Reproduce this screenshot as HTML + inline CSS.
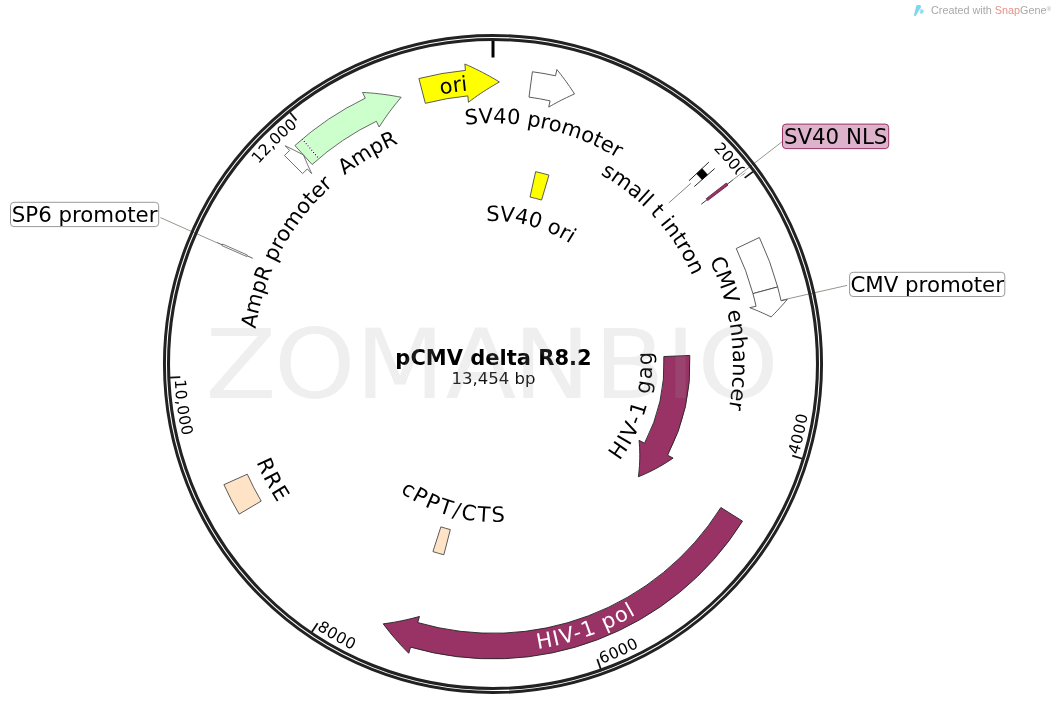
<!DOCTYPE html>
<html><head><meta charset="utf-8"><title>pCMV delta R8.2</title>
<style>
html,body{margin:0;padding:0;background:#fff;}
body{width:1058px;height:724px;overflow:hidden;}
svg{display:block;font-family:"DejaVu Sans","Liberation Sans",sans-serif;}
</style></head><body>
<svg width="1058" height="724" viewBox="0 0 1058 724">
<rect width="1058" height="724" fill="#fff"/>
<defs>
<path id="p1" d="M455.87,58.25 A308.00,308.00 0 0 1 739.23,178.97"/>
<path id="p2" d="M798.43,455.01 A318.70,318.70 0 0 0 724.53,144.99"/>
<path id="p3" d="M601.44,663.68 A318.70,318.70 0 0 0 806.75,419.93"/>
<path id="p4" d="M316.53,629.38 A318.70,318.70 0 0 0 634.59,649.52"/>
<path id="p5" d="M174.70,379.91 A318.70,318.70 0 0 0 347.62,647.61"/>
<path id="p6" d="M189.09,414.01 A308.00,308.00 0 0 1 297.73,125.81"/>
<path id="p7" d="M238.31,261.61 A274.50,274.50 0 0 1 709.01,194.62"/>
<path id="p8" d="M304.87,582.72 A288.50,288.50 0 0 0 776.48,417.56"/>
<path id="p9" d="M314.97,202.01 A240.70,240.70 0 0 1 722.31,290.82"/>
<path id="p10" d="M253.02,366.93 A240.00,240.00 0 0 1 610.45,154.70"/>
<path id="p11" d="M288.81,490.11 A240.00,240.00 0 0 1 485.88,124.11"/>
<path id="p12" d="M446.93,150.92 A218.00,218.00 0 0 1 700.56,430.64"/>
<path id="p13" d="M585.23,142.43 A240.00,240.00 0 0 1 638.77,554.66"/>
<path id="p14" d="M276.85,226.83 A256.00,256.00 0 0 0 482.28,619.78"/>
<path id="p15" d="M530.16,518.80 A159.20,159.20 0 0 0 608.48,254.41"/>
<path id="p16" d="M391.88,262.88 A143.00,143.00 0 0 1 631.13,326.99"/>
<path id="p17" d="M339.83,402.76 A158.00,158.00 0 0 0 603.15,477.27"/>
</defs>
<line x1="753.10" y1="171.65" x2="744.66" y2="177.89" stroke="#111" stroke-width="1.8"/>
<text font-size="15.6" fill="#000"><textPath href="#p1" startOffset="100%" text-anchor="end" textLength="39.9" lengthAdjust="spacing">2000</textPath></text>
<line x1="802.31" y1="458.75" x2="792.27" y2="455.68" stroke="#111" stroke-width="1.8"/>
<text font-size="15.6" fill="#000"><textPath href="#p2" startOffset="0%" text-anchor="start" textLength="41.3" lengthAdjust="spacing">4000</textPath></text>
<line x1="600.74" y1="669.03" x2="597.24" y2="659.13" stroke="#111" stroke-width="1.8"/>
<text font-size="15.6" fill="#000"><textPath href="#p3" startOffset="0%" text-anchor="start" textLength="41.3" lengthAdjust="spacing">6000</textPath></text>
<line x1="311.81" y1="632.00" x2="317.69" y2="623.30" stroke="#111" stroke-width="1.8"/>
<text font-size="15.6" fill="#000"><textPath href="#p4" startOffset="0%" text-anchor="start" textLength="41.3" lengthAdjust="spacing">8000</textPath></text>
<line x1="169.79" y1="377.67" x2="180.28" y2="377.22" stroke="#111" stroke-width="1.8"/>
<text font-size="15.6" fill="#000"><textPath href="#p5" startOffset="0%" text-anchor="start" textLength="56.8" lengthAdjust="spacing">10,000</textPath></text>
<line x1="289.83" y1="112.26" x2="296.42" y2="120.43" stroke="#111" stroke-width="1.8"/>
<text font-size="15.6" fill="#000"><textPath href="#p6" startOffset="100%" text-anchor="end" textLength="54.9" lengthAdjust="spacing">12,000</textPath></text>
<line x1="493.00" y1="40.50" x2="493.00" y2="57.50" stroke="#000" stroke-width="3"/>
<line x1="732.00" y1="180.50" x2="782.00" y2="141.80" stroke="#fff" stroke-width="4"/>
<line x1="732.00" y1="180.50" x2="782.00" y2="141.80" stroke="#8a8a80" stroke-width="0.9"/>
<line x1="781.70" y1="300.20" x2="847.00" y2="285.40" stroke="#fff" stroke-width="4"/>
<line x1="781.70" y1="300.20" x2="847.00" y2="285.40" stroke="#8a8a80" stroke-width="0.9"/>
<line x1="160.40" y1="217.60" x2="216.60" y2="242.60" stroke="#fff" stroke-width="4"/>
<line x1="160.40" y1="217.60" x2="216.60" y2="242.60" stroke="#8a8a80" stroke-width="0.9"/>
<circle cx="493.0" cy="364.0" r="328.55" fill="none" stroke="#222" stroke-width="2.95"/>
<circle cx="493.0" cy="364.0" r="324.5" fill="none" stroke="#222" stroke-width="3.05"/>
<path d="M425.35,103.34 L418.91,78.56 A294.90,294.90 0 0 1 465.44,70.39 L464.85,64.02 L468.49,65.62 L472.10,67.28 L475.66,68.97 L479.18,70.71 L482.66,72.48 L486.10,74.30 L489.49,76.16 L492.84,78.06 L496.14,80.00 L499.40,81.97 L496.10,83.84 L492.84,85.74 L489.63,87.68 L486.46,89.66 L483.34,91.67 L480.27,93.72 L477.24,95.80 L474.26,97.92 L471.32,100.07 L468.43,102.25 L467.84,95.88 A269.30,269.30 0 0 0 425.35,103.34 Z" fill="#ffff00" stroke="#4a4a4a" stroke-width="0.9" stroke-linejoin="miter" />
<path d="M528.99,97.12 L532.41,71.75 A294.90,294.90 0 0 1 555.52,75.80 L556.88,69.55 L558.80,71.94 L560.68,74.34 L562.53,76.76 L564.35,79.18 L566.13,81.62 L567.88,84.06 L569.60,86.52 L571.28,88.98 L572.92,91.46 L574.54,93.94 L571.84,95.14 L569.18,96.37 L566.53,97.62 L563.91,98.90 L561.32,100.20 L558.75,101.53 L556.21,102.88 L553.69,104.26 L551.20,105.65 L548.74,107.08 L550.09,100.82 A269.30,269.30 0 0 0 528.99,97.12 Z" fill="#ffffff" stroke="#4a4a4a" stroke-width="0.9" stroke-linejoin="miter" />
<path d="M312.11,164.50 L294.91,145.54 A294.90,294.90 0 0 1 365.29,98.19 L362.52,92.42 L366.50,92.66 L370.45,92.96 L374.38,93.31 L378.29,93.72 L382.17,94.18 L386.02,94.69 L389.85,95.26 L393.65,95.88 L397.42,96.55 L401.16,97.27 L398.71,100.16 L396.31,103.08 L393.98,106.01 L391.69,108.97 L389.46,111.94 L387.29,114.92 L385.17,117.93 L383.11,120.95 L381.10,123.98 L379.15,127.03 L376.38,121.26 A269.30,269.30 0 0 0 312.11,164.50 Z" fill="#ccffcc" stroke="#5a5a5a" stroke-width="0.9" stroke-linejoin="miter" />
<path d="M736.27,248.49 L759.39,237.51 A294.90,294.90 0 0 1 777.65,286.93 L752.94,293.62 A269.30,269.30 0 0 0 736.27,248.49 Z" fill="#ffffff" stroke="#4a4a4a" stroke-width="0.9"/>
<path d="M752.94,293.62 L777.65,286.93 A294.90,294.90 0 0 1 781.05,300.80 L787.30,299.43 L785.73,301.26 L784.15,303.07 L782.56,304.86 L780.96,306.64 L779.35,308.40 L777.73,310.15 L776.10,311.88 L774.46,313.59 L772.81,315.28 L771.15,316.95 L769.03,315.94 L766.90,314.94 L764.77,313.96 L762.64,313.00 L760.50,312.06 L758.37,311.14 L756.23,310.24 L754.08,309.36 L751.94,308.50 L749.79,307.66 L756.04,306.29 A269.30,269.30 0 0 0 752.94,293.62 Z" fill="#ffffff" stroke="#4a4a4a" stroke-width="0.9" stroke-linejoin="miter" />
<path d="M663.84,356.54 L689.81,355.41 A197.00,197.00 0 0 1 667.60,455.23 L673.10,458.10 L669.71,460.38 L666.29,462.56 L662.86,464.65 L659.40,466.66 L655.93,468.57 L652.44,470.39 L648.94,472.12 L645.43,473.76 L641.91,475.31 L638.39,476.77 L638.84,473.02 L639.20,469.28 L639.48,465.56 L639.67,461.87 L639.77,458.20 L639.79,454.56 L639.73,450.95 L639.59,447.37 L639.37,443.83 L639.06,440.32 L644.56,443.19 A171.00,171.00 0 0 0 663.84,356.54 Z" fill="#993366" stroke="#222" stroke-width="0.9" stroke-linejoin="miter" />
<path d="M720.88,507.50 L742.54,521.15 A294.90,294.90 0 0 1 410.54,647.14 L408.75,653.28 L405.95,650.44 L403.20,647.58 L400.51,644.70 L397.88,641.78 L395.30,638.85 L392.77,635.89 L390.30,632.92 L387.89,629.92 L385.53,626.90 L383.23,623.87 L386.98,623.35 L390.71,622.78 L394.41,622.16 L398.08,621.48 L401.73,620.76 L405.34,619.99 L408.92,619.17 L412.48,618.30 L416.00,617.38 L419.49,616.41 L417.70,622.56 A269.30,269.30 0 0 0 720.88,507.50 Z" fill="#993366" stroke="#222" stroke-width="0.9" stroke-linejoin="miter" />
<path d="M261.20,501.08 L239.17,514.12 A294.90,294.90 0 0 1 223.91,484.65 L247.27,474.18 A269.30,269.30 0 0 0 261.20,501.08 Z" fill="#ffe3c6" stroke="#4a4a4a" stroke-width="0.9"/>
<path d="M450.33,529.59 L443.84,554.77 A197.00,197.00 0 0 1 432.94,551.62 L440.87,526.86 A171.00,171.00 0 0 0 450.33,529.59 Z" fill="#ffe3c6" stroke="#4a4a4a" stroke-width="0.9"/>
<path d="M530.01,197.05 L535.64,171.67 A197.00,197.00 0 0 1 548.95,175.11 L541.57,200.04 A171.00,171.00 0 0 0 530.01,197.05 Z" fill="#ffff00" stroke="#4a4a4a" stroke-width="0.9"/>
<path d="M302.58,173.58 L284.47,155.47 A294.90,294.90 0 0 1 289.63,150.44 L285.22,145.81 L287.07,146.69 L288.92,147.59 L290.76,148.49 L292.60,149.40 L294.43,150.32 L296.26,151.24 L298.08,152.18 L299.90,153.12 L301.70,154.06 L303.51,155.02 L304.29,156.90 L305.08,158.78 L305.88,160.65 L306.69,162.52 L307.50,164.38 L308.33,166.24 L309.16,168.09 L310.00,169.94 L310.84,171.78 L311.70,173.62 L307.29,168.98 A269.30,269.30 0 0 0 302.58,173.58 Z" fill="#ffffff" stroke="#4a4a4a" stroke-width="0.8" stroke-linejoin="miter" />
<line x1="318.37" y1="158.08" x2="302.20" y2="139.01" stroke="#fff" stroke-width="1.5"/>
<line x1="318.37" y1="158.08" x2="302.20" y2="139.01" stroke="#000" stroke-width="1.1" stroke-dasharray="1,1.9" stroke-dashoffset="-1"/>
<line x1="252.73" y1="258.28" x2="216.58" y2="242.37" stroke="#333" stroke-width="0.8"/>
<path d="M246.64,256.47 L221.90,245.67 A295.80,295.80 0 0 1 222.61,244.06 L247.29,255.01 A268.80,268.80 0 0 0 246.64,256.47 Z" fill="#ffffff" stroke="#444" stroke-width="0.7"/>
<line x1="701.26" y1="204.20" x2="732.59" y2="180.15" stroke="#222" stroke-width="0.9"/>
<path d="M706.18,198.64 L726.33,183.01 A295.30,295.30 0 0 1 727.97,185.13 L707.68,200.58 A269.80,269.80 0 0 0 706.18,198.64 Z" fill="#993366" stroke="#5a1f3c" stroke-width="0.8"/>
<line x1="688.97" y1="180.75" x2="708.83" y2="162.17" stroke="#111" stroke-width="0.9"/>
<line x1="694.25" y1="186.57" x2="714.66" y2="168.58" stroke="#111" stroke-width="0.9"/>
<path d="M696.49,173.71 L702.11,168.45 A286.30,286.30 0 0 1 707.76,174.67 L701.98,179.76 A278.60,278.60 0 0 0 696.49,173.71 Z" fill="#000" stroke="#000" stroke-width="0.3"/>
<line x1="668.84" y1="202.87" x2="690.91" y2="183.29" stroke="#777" stroke-width="0.9"/>
<text font-size="21.0" fill="#000" ><textPath href="#p7" startOffset="50%" text-anchor="middle">ori</textPath></text>
<text font-size="21.0" fill="#fff" ><textPath href="#p8" startOffset="50%" text-anchor="middle" textLength="104.6" lengthAdjust="spacing">HIV-1 pol</textPath></text>
<text font-size="21.0" fill="#000" ><textPath href="#p9" startOffset="50%" text-anchor="middle">SV40 promoter</textPath></text>
<text font-size="21.0" fill="#000" ><textPath href="#p10" startOffset="50%" text-anchor="middle">AmpR</textPath></text>
<text font-size="21.0" fill="#000" ><textPath href="#p11" startOffset="50%" text-anchor="middle">AmpR promoter</textPath></text>
<text font-size="21.0" fill="#000" ><textPath href="#p12" startOffset="50%" text-anchor="middle">small t intron</textPath></text>
<text font-size="21.0" fill="#000" ><textPath href="#p13" startOffset="50%" text-anchor="middle">CMV enhancer</textPath></text>
<text font-size="21.0" fill="#000" ><textPath href="#p14" startOffset="50%" text-anchor="middle" textLength="45.9" lengthAdjust="spacing">RRE</textPath></text>
<text font-size="21.0" fill="#000" ><textPath href="#p15" startOffset="50%" text-anchor="middle" textLength="116.5" lengthAdjust="spacing">HIV-1 gag</textPath></text>
<text font-size="21.0" fill="#000" ><textPath href="#p16" startOffset="50%" text-anchor="middle">SV40 ori</textPath></text>
<text font-size="21.0" fill="#000" ><textPath href="#p17" startOffset="50%" text-anchor="middle" textLength="111.3" lengthAdjust="spacing">cPPT/CTS</textPath></text>
<rect x="782.5" y="124.1" width="106.2" height="24.5" rx="3.5" ry="3.5" fill="#ddb3cc" stroke="#993366" stroke-width="1"/>
<text x="835.6" y="143.9" font-size="21.33" text-anchor="middle">SV40 NLS</text>
<rect x="849.6" y="272.3" width="155.2" height="24.2" rx="3.5" ry="3.5" fill="#ffffff" stroke="#999" stroke-width="1"/>
<text x="927.2" y="292.0" font-size="21.33" text-anchor="middle">CMV promoter</text>
<rect x="10.5" y="202.3" width="148.2" height="24.3" rx="3.5" ry="3.5" fill="#ffffff" stroke="#999" stroke-width="1"/>
<text x="84.6" y="222.0" font-size="21.33" text-anchor="middle">SP6 promoter</text>
<text x="493.5" y="365" font-size="21" font-weight="bold" text-anchor="middle">pCMV delta R8.2</text>
<text x="493.4" y="384.2" font-size="15" text-anchor="middle" fill="#111" textLength="84" lengthAdjust="spacingAndGlyphs">13,454 bp</text>
<text transform="scale(1.08,1)" x="190.2 253.6 329.0 412.4 475.0 549.8 615.9 645.6" y="398" font-size="96.0" fill="#9c9c9c" fill-opacity="0.16">ZOMANBIO</text>
<path d="M913.9,15.6 L916.2,6.0 Q916.6,5.0 917.8,5.0 L920.0,5.1 Q921.2,5.6 921.0,6.9 L916.0,15.4 Q914.8,16.4 913.9,15.6 Z" fill="#7fd6ef"/>
<path d="M920.6,8.4 L923.8,10.6 Q924.1,11.6 923.2,12.4 L921.4,13.9 Q920.5,13.9 920.1,12.9 Z" fill="#8ddcf2"/>
<text x="931" y="14.2" font-family="'Liberation Sans',sans-serif" font-size="10.6" fill="#a8a8a8" textLength="120" lengthAdjust="spacingAndGlyphs">Created with <tspan fill="#e0948a">Snap</tspan>Gene<tspan font-size="6" dy="-3.5">®</tspan></text>
</svg>
</body></html>
